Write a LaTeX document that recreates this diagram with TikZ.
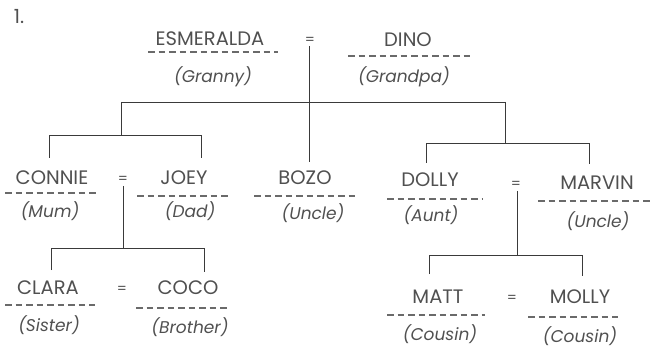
\documentclass[tikz,border=0pt]{standalone}
\usepackage{fontspec}
\setmainfont{Poppins}
\definecolor{ink}{HTML}{505050}
\definecolor{lineink}{HTML}{3A3A3A}
\definecolor{dashink}{HTML}{6A6A6A}
\begin{document}
\begin{tikzpicture}[x=1pt,y=-1pt,
  nm/.style={inner sep=0pt,text=ink,font=\fontsize{19.5}{19.5}\selectfont},
  rl/.style={inner sep=0pt,text=ink,font=\fontsize{17}{17}\selectfont\itshape},
  eqs/.style={inner sep=0pt,text=ink,font=\fontsize{14}{14}\selectfont},
  under/.style={draw=dashink,line width=1.5pt,dash pattern=on 6.5pt off 4pt},
  link/.style={draw=lineink,line width=0.8pt}]
\useasboundingbox (0,0) rectangle (650,355);
\node[nm] (num) at (19,17) {1.};
% generation 1
\node[nm] (esm) at (210,39) {ESMERALDA};
\node[rl] (granny) at (213,77) {(Granny)};
\node[eqs] (eqa) at (310,41) {=};
\node[nm] (dino) at (408,40) {DINO};
\node[rl] (grandpa) at (404,77) {(Grandpa)};
\draw[under] (148,52) -- (278,52);
\draw[under] (348,56) -- (472,56);
% generation 2
\node[nm] (connie) at (52,178) {CONNIE};
\node[rl] (mum) at (50,211) {(Mum)};
\node[eqs] (eqb) at (123,180) {=};
\node[nm] (joey) at (184,178) {JOEY};
\node[rl] (dad) at (190,211) {(Dad)};
\node[nm] (bozo) at (305,178) {BOZO};
\node[rl] (unclea) at (313,213) {(Uncle)};
\node[nm] (dolly) at (430,180) {DOLLY};
\node[rl] (aunt) at (431,215) {(Aunt)};
\node[eqs] (eqc) at (516,185) {=};
\node[nm] (marvin) at (597,183) {MARVIN};
\node[rl] (uncleb) at (598,221) {(Uncle)};
\draw[under] (5,193) -- (97,193);
\draw[under] (137,196) -- (230,196);
\draw[under] (254,196) -- (356,196);
\draw[under] (387,199) -- (482,199);
\draw[under] (538,201) -- (650,201);
% generation 3
\node[nm] (clara) at (48,288) {CLARA};
\node[rl] (sister) at (49,325) {(Sister)};
\node[eqs] (eqd) at (122,290) {=};
\node[nm] (coco) at (188,288) {COCO};
\node[rl] (brother) at (190,327) {(Brother)};
\node[nm] (matt) at (438,297) {MATT};
\node[rl] (cousina) at (440,334) {(Cousin)};
\node[eqs] (eqe) at (512,299) {=};
\node[nm] (molly) at (580,297) {MOLLY};
\node[rl] (cousinb) at (580,336) {(Cousin)};
\draw[under] (5,305) -- (95,305);
\draw[under] (136,308) -- (228,308);
\draw[under] (387,315) -- (485,315);
\draw[under] (528,317) -- (618,317);
% connectors
\coordinate (ga) at (309,102);
\coordinate (gl) at (121,102);
\coordinate (gr) at (505,102);
\coordinate (gt) at (309,46);
\coordinate (gb) at (309,162);
\draw[link] (gt) -- (gb);
\draw[link] (gl) -- (gr);
\coordinate (cjm) at (121,135);
\coordinate (cjl) at (49,135);
\coordinate (cjr) at (201,135);
\draw[link] (gl) -- (cjm);
\draw[link] (49,158) -- (cjl) -- (cjr) -- (201,158);
\coordinate (dmm) at (505,143);
\coordinate (dml) at (426,143);
\coordinate (dmr) at (589,143);
\draw[link] (gr) -- (dmm);
\draw[link] (426,163) -- (dml) -- (dmr) -- (589,164);
\coordinate (cct) at (123,186);
\coordinate (ccm) at (123,248);
\draw[link] (cct) -- (ccm);
\draw[link] (51,270) -- (51,248) -- (204,248) -- (204,272);
\coordinate (mmt) at (517,191);
\coordinate (mmm) at (517,255);
\draw[link] (mmt) -- (mmm);
\draw[link] (429,274) -- (429,255) -- (582,255) -- (582,276);
\end{tikzpicture}
\end{document}
